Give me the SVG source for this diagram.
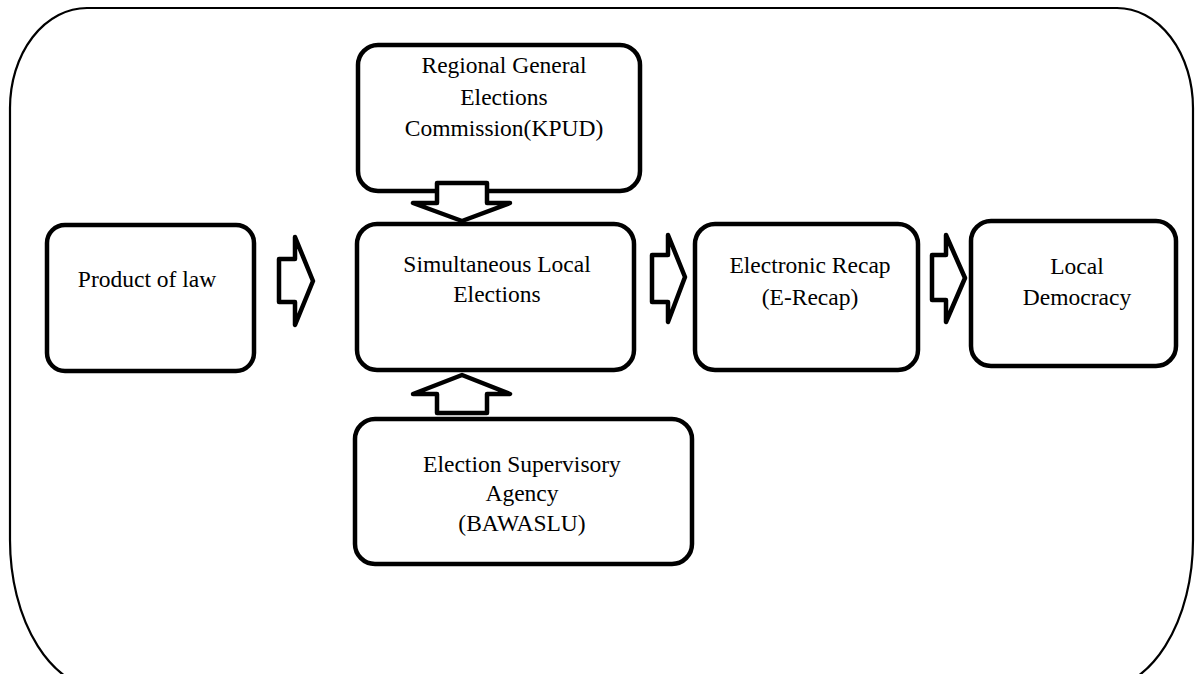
<svg xmlns="http://www.w3.org/2000/svg" width="1197" height="674" viewBox="0 0 1197 674">
<style>
.frame{fill:none;stroke:#000;stroke-width:2.2}
.box{fill:#fff;stroke:#000;stroke-width:4.5}
.arr{fill:#fff;stroke:#000;stroke-width:4.5;stroke-linejoin:round}
text{font-family:"Liberation Serif","Times New Roman",serif;font-size:23.5px;fill:#000;text-anchor:middle}
</style>
<rect width="1197" height="674" fill="#fff"/>
<path class="frame" d="M 87,8 H 1117 A 76 100 0 0 1 1193 108 V 540 A 95 150 0 0 1 1098 690 H 105 A 95 150 0 0 1 10 540 V 108 A 77 100 0 0 1 87 8 Z"/>
<g id="product">
<rect class="box" x="47" y="225" width="207" height="146" rx="18"/>
<text x="147" y="287">Product of law</text>
</g>
<g id="kpud">
<rect class="box" x="358" y="45" width="282" height="146" rx="20"/>
<text x="504" y="73">Regional General</text>
<text x="504" y="105">Elections</text>
<text x="504" y="136">Commission(KPUD)</text>
</g>
<g id="simultaneous">
<rect class="box" x="357" y="224" width="277" height="146" rx="20"/>
<text x="497" y="272">Simultaneous Local</text>
<text x="497" y="302">Elections</text>
</g>
<g id="bawaslu">
<rect class="box" x="355" y="419" width="337" height="145" rx="20"/>
<text x="522" y="472">Election Supervisory</text>
<text x="522" y="501">Agency</text>
<text x="522" y="531">(BAWASLU)</text>
</g>
<g id="erecap">
<rect class="box" x="695" y="224" width="223" height="146" rx="20"/>
<text x="810" y="273">Electronic Recap</text>
<text x="810" y="305">(E-Recap)</text>
</g>
<g id="democracy">
<rect class="box" x="971" y="221" width="205" height="145" rx="20"/>
<text x="1077" y="274">Local</text>
<text x="1077" y="305">Democracy</text>
</g>
<g id="connectors">
<polygon class="arr" points="279,259 295,259 295,237 313,281 295,325 295,302 279,302"/>
<polygon class="arr" points="652,255 668,255 668,235 685,277 668,322 668,302 652,302"/>
<polygon class="arr" points="932,255 946,255 946,235 965,278 946,322 946,300 932,300"/>
<polygon class="arr" points="437,183 487,183 487,203 510,203 462,221 413,203 437,203"/>
<polygon class="arr" points="462,375 510,394 487,394 487,413 437,413 437,394 413,394"/>
</g>
</svg>
